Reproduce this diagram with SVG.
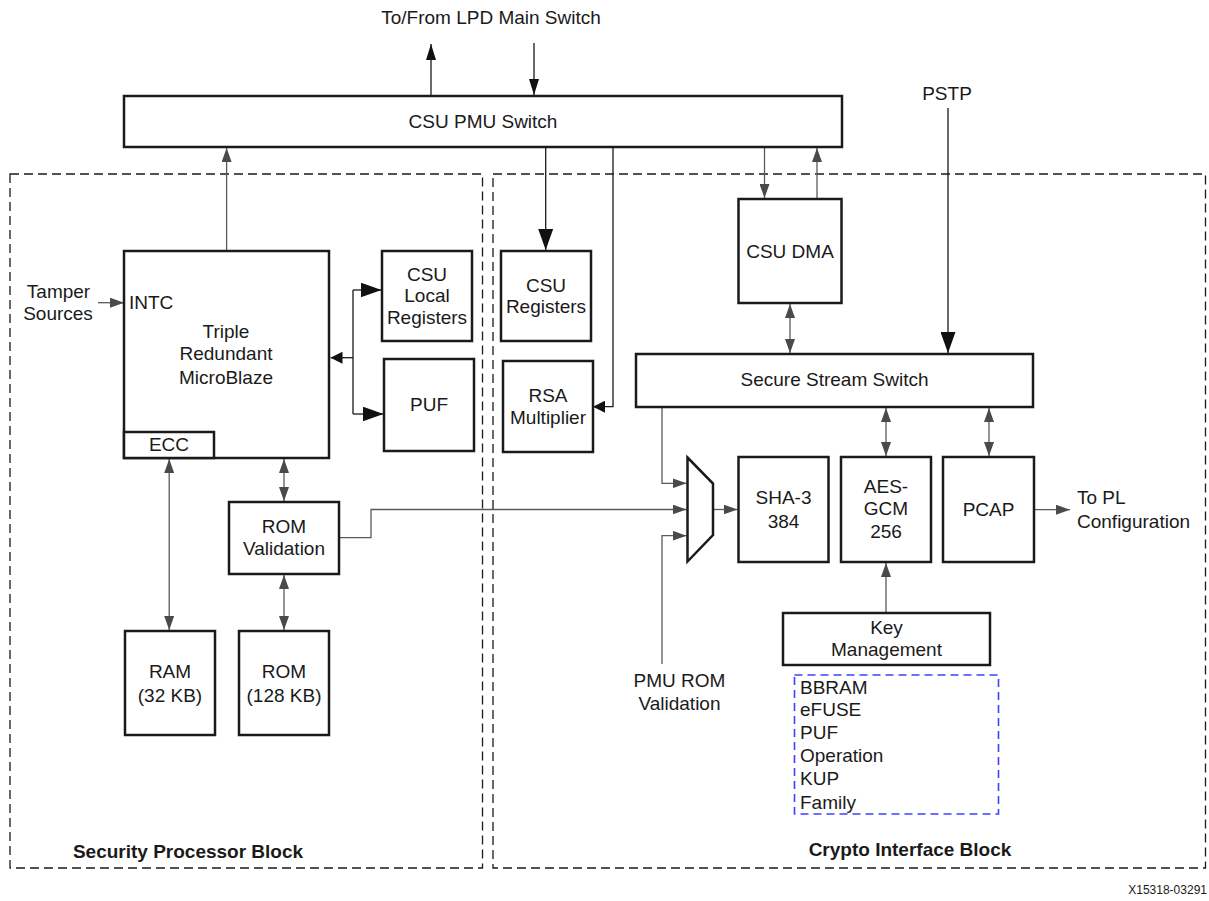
<svg xmlns="http://www.w3.org/2000/svg" width="1209" height="901" viewBox="0 0 1209 901">
<style>
  text { font-family: "Liberation Sans", Arial, sans-serif; font-size: 19px; fill: #1a1a1a; }
  .c { text-anchor: middle; }
  .b { font-weight: bold; }
  .box { fill: #fff; stroke: #1a1a1a; stroke-width: 2.5; }
  .blk { fill: none; stroke: #1a1a1a; stroke-width: 1.3; }
  .gry { fill: none; stroke: #5a5a5a; stroke-width: 1.3; }
  .dash { fill: none; stroke: #1a1a1a; stroke-width: 1.3; stroke-dasharray: 9 5; }
  .bdash { fill: none; stroke: #4040ff; stroke-width: 1.6; stroke-dasharray: 8 5; }
</style>
<defs>
  <marker id="ag" markerUnits="userSpaceOnUse" markerWidth="14" markerHeight="10" refX="14" refY="5" orient="auto-start-reverse"><path d="M0,0 L14,5 L0,10 z" fill="#4a4a4a"/></marker>
  <marker id="ab" markerUnits="userSpaceOnUse" markerWidth="21" markerHeight="15" refX="21" refY="7.5" orient="auto"><path d="M0,0 L21,7.5 L0,15 z" fill="#111"/></marker>
  <marker id="am" markerUnits="userSpaceOnUse" markerWidth="16" markerHeight="10" refX="16" refY="5" orient="auto"><path d="M0,0 L16,5 L0,10 z" fill="#111"/></marker>
  <marker id="as" markerUnits="userSpaceOnUse" markerWidth="12" markerHeight="12" refX="12" refY="6" orient="auto"><path d="M0,0 L12,6 L0,12 z" fill="#111"/></marker>
</defs>

<g id="security-processor-block">
  <rect class="dash" x="10" y="174" width="472.5" height="694"/>
  <text class="c b" x="188" y="857.5">Security Processor Block</text>
</g>
<g id="crypto-interface-block">
  <rect class="dash" x="493" y="174" width="712.5" height="694"/>
  <text class="c b" x="910" y="856">Crypto Interface Block</text>
</g>

<g id="connectors">
  <line class="blk" x1="431" y1="96" x2="431" y2="44" marker-end="url(#am)"/>
  <line class="blk" x1="534" y1="43" x2="534" y2="95" marker-end="url(#am)"/>
  <line class="gry" x1="226.6" y1="251" x2="226.6" y2="148" marker-end="url(#ag)"/>
  <line class="gry" x1="98" y1="302.7" x2="124" y2="302.7" marker-end="url(#ag)"/>
  <line class="blk" x1="353" y1="290" x2="353" y2="414"/>
  <line class="blk" x1="353" y1="290" x2="381.5" y2="290" marker-end="url(#ab)"/>
  <line class="blk" x1="353" y1="414" x2="383.5" y2="414" marker-end="url(#ab)"/>
  <line class="blk" x1="353" y1="357.7" x2="330.5" y2="357.7" marker-end="url(#as)"/>
  <line class="blk" x1="545.7" y1="147" x2="545.7" y2="250" marker-end="url(#ab)"/>
  <path class="blk" d="M613,147 V406.7 H593" marker-end="url(#as)"/>
  <line class="gry" x1="764.5" y1="147" x2="764.5" y2="198" marker-end="url(#ag)"/>
  <line class="gry" x1="817" y1="198" x2="817" y2="148" marker-end="url(#ag)"/>
  <line class="gry" x1="790" y1="304" x2="790" y2="353" marker-start="url(#ag)" marker-end="url(#ag)"/>
  <line class="blk" x1="948" y1="108" x2="948" y2="353" marker-end="url(#ab)"/>
  <line class="gry" x1="886" y1="408" x2="886" y2="456" marker-start="url(#ag)" marker-end="url(#ag)"/>
  <line class="gry" x1="989" y1="408" x2="989" y2="456" marker-start="url(#ag)" marker-end="url(#ag)"/>
  <path class="gry" d="M662,407 V483.3 H686.5" marker-end="url(#ag)"/>
  <path class="gry" d="M339,537.7 H371 V509.5 H686.5" marker-end="url(#ag)"/>
  <path class="gry" d="M662,664 V535.7 H686.5" marker-end="url(#ag)"/>
  <line class="gry" x1="713" y1="509.5" x2="737.5" y2="509.5" marker-end="url(#ag)"/>
  <line class="gry" x1="1034" y1="509.7" x2="1070" y2="509.7" marker-end="url(#ag)"/>
  <line class="gry" x1="886" y1="613" x2="886" y2="563" marker-end="url(#ag)"/>
  <line class="gry" x1="169.2" y1="459" x2="169.2" y2="630" marker-start="url(#ag)" marker-end="url(#ag)"/>
  <line class="gry" x1="284" y1="459" x2="284" y2="501" marker-start="url(#ag)" marker-end="url(#ag)"/>
  <line class="gry" x1="284" y1="575" x2="284" y2="630" marker-start="url(#ag)" marker-end="url(#ag)"/>
</g>

<g id="lpd-label"><text class="c" x="491" y="24">To/From LPD Main Switch</text></g>
<g id="pstp-label"><text class="c" x="947" y="100">PSTP</text></g>
<g id="tamper-label"><text class="c" x="58.5" y="297.5">Tamper</text><text class="c" x="58" y="320">Sources</text></g>

<g id="csu-pmu-switch">
  <rect class="box" x="124" y="96" width="718" height="51"/>
  <text class="c" x="483" y="128">CSU PMU Switch</text>
</g>
<g id="microblaze">
  <rect class="box" x="124" y="251" width="205" height="207"/>
  <text x="129" y="308.5">INTC</text>
  <text class="c" x="226" y="337.5">Triple</text>
  <text class="c" x="226" y="360">Redundant</text>
  <text class="c" x="226" y="383.5">MicroBlaze</text>
  <rect class="box" x="124" y="432" width="90" height="26"/>
  <text class="c" x="169" y="451">ECC</text>
</g>
<g id="csu-local-registers">
  <rect class="box" x="382" y="251" width="90" height="90"/>
  <text class="c" x="427" y="281">CSU</text>
  <text class="c" x="427" y="302">Local</text>
  <text class="c" x="427" y="323.5">Registers</text>
</g>
<g id="puf">
  <rect class="box" x="384" y="359" width="90" height="92"/>
  <text class="c" x="429" y="411">PUF</text>
</g>
<g id="csu-registers">
  <rect class="box" x="501" y="251" width="90" height="90"/>
  <text class="c" x="546" y="292">CSU</text>
  <text class="c" x="546" y="313">Registers</text>
</g>
<g id="rsa-multiplier">
  <rect class="box" x="503" y="361" width="90" height="91"/>
  <text class="c" x="548" y="402">RSA</text>
  <text class="c" x="548" y="423.5">Multiplier</text>
</g>
<g id="csu-dma">
  <rect class="box" x="738.5" y="199" width="103" height="104"/>
  <text class="c" x="790" y="257.5">CSU DMA</text>
</g>
<g id="secure-stream-switch">
  <rect class="box" x="636" y="354" width="397" height="53"/>
  <text class="c" x="834.5" y="386">Secure Stream Switch</text>
</g>
<g id="mux">
  <polygon class="box" points="687.5,457.5 713,483.5 713,535 687.5,561.5"/>
</g>
<g id="sha3">
  <rect class="box" x="738.5" y="457" width="90" height="105"/>
  <text class="c" x="783.5" y="504">SHA-3</text>
  <text class="c" x="783.5" y="527.5">384</text>
</g>
<g id="aes-gcm">
  <rect class="box" x="841" y="457" width="90" height="105"/>
  <text class="c" x="886" y="492.5">AES-</text>
  <text class="c" x="886" y="515">GCM</text>
  <text class="c" x="886" y="538">256</text>
</g>
<g id="pcap">
  <rect class="box" x="943" y="457" width="91" height="105"/>
  <text class="c" x="988.5" y="515.5">PCAP</text>
</g>
<g id="pl-config-label">
  <text x="1077" y="504">To PL</text>
  <text x="1077" y="527.5">Configuration</text>
</g>
<g id="key-management">
  <rect class="box" x="783" y="613" width="207" height="52"/>
  <text class="c" x="886.5" y="633.5">Key</text>
  <text class="c" x="886.5" y="656">Management</text>
</g>
<g id="key-sources">
  <rect class="bdash" x="794.5" y="675" width="204" height="139"/>
  <text x="800" y="693.5">BBRAM</text>
  <text x="800" y="716">eFUSE</text>
  <text x="800" y="739">PUF</text>
  <text x="800" y="762">Operation</text>
  <text x="800" y="785">KUP</text>
  <text x="800" y="808.5">Family</text>
</g>
<g id="pmu-rom-label">
  <text class="c" x="679.5" y="687">PMU ROM</text>
  <text class="c" x="679.5" y="710">Validation</text>
</g>
<g id="rom-validation">
  <rect class="box" x="229" y="502" width="110" height="72"/>
  <text class="c" x="284" y="532.5">ROM</text>
  <text class="c" x="284" y="555">Validation</text>
</g>
<g id="ram">
  <rect class="box" x="125" y="631" width="90" height="104"/>
  <text class="c" x="170" y="678">RAM</text>
  <text class="c" x="170" y="702">(32 KB)</text>
</g>
<g id="rom">
  <rect class="box" x="239" y="631" width="90" height="104"/>
  <text class="c" x="284" y="678">ROM</text>
  <text class="c" x="284" y="702">(128 KB)</text>
</g>
<g id="figure-id">
  <text x="1207" y="894" style="font-size:12px; text-anchor:end">X15318-03291</text>
</g>
</svg>
